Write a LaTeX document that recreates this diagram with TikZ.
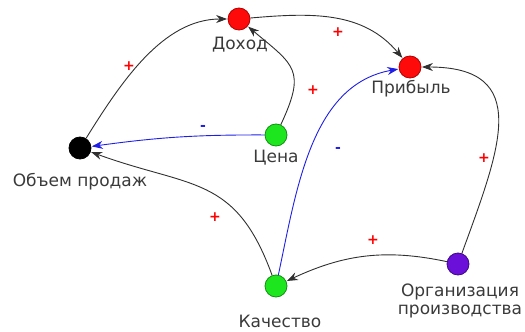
\documentclass[tikz,border=0pt]{standalone}
\usepackage{fontspec}
\setmainfont{DejaVu Sans}
\usetikzlibrary{arrows.meta}
\definecolor{txt}{HTML}{3A3A3A}
\definecolor{edge}{HTML}{303030}
\definecolor{neg}{HTML}{1E1EE6}
\definecolor{redfill}{HTML}{FF0A0A}
\definecolor{redline}{HTML}{B00000}
\definecolor{greenfill}{HTML}{1EE61E}
\definecolor{greenline}{HTML}{109010}
\definecolor{purplefill}{HTML}{6A10D8}
\definecolor{purpleline}{HTML}{40088A}
\tikzset{
  vert/.style={circle, minimum size=22pt, inner sep=0pt, line width=0.8pt},
  lbl/.style={text=txt, font=\fontsize{17}{19}\selectfont, inner sep=0pt, align=center},
  link/.style={draw=edge, line width=0.9pt, -{Stealth[length=11pt,width=8pt]}, shorten >=0.5pt},
  neglink/.style={link, draw=neg},
  plus/.style={text=red, font=\bfseries\fontsize{14}{16}\selectfont, inner sep=0pt},
  minus/.style={text=neg, font=\bfseries\fontsize{14}{16}\selectfont, inner sep=0pt}
}
\begin{document}
\begin{tikzpicture}[x=1pt, y=-1pt]
  \useasboundingbox (0,0) rectangle (525,332);

  % variables of the model
  \node[vert, fill=redfill, draw=redline] (doh) at (239,19) {};
  \node[vert, fill=redfill, draw=redline] (prib) at (410,67) {};
  \node[vert, fill=black, draw=black] (ob) at (80,148) {};
  \node[vert, fill=greenfill, draw=greenline] (cena) at (276,135) {};
  \node[vert, fill=greenfill, draw=greenline] (kach) at (276,286) {};
  \node[vert, fill=purplefill, draw=purpleline] (org) at (458,264) {};

  % captions
  \node[lbl] (doh-t) at (240,45) {Доход};
  \node[lbl] (prib-t) at (411,89) {Прибыль};
  \node[lbl] (ob-t) at (80,182) {Объем продаж};
  \node[lbl] (cena-t) at (276,158) {Цена};
  \node[lbl] (kach-t) at (280,321) {Качество};
  \node[lbl] (org-t) at (460,301) {Организация\\[-1pt]производства};

  % causal links
  \draw[link] (ob) to[out=58, in=180, looseness=0.9] (doh);
  \draw[link] (cena) to[out=65, in=-40, looseness=1.5] (doh);
  \draw[link] (doh) to[out=5, in=130, looseness=1.0] (prib);
  \draw[neglink] (cena) to[bend right=4] (ob);
  \draw[neglink] (kach) to[out=78, in=190, looseness=0.95] (prib);
  \draw[link] (org) to[out=70, in=0, looseness=1.5] (prib);
  \draw[link] (org) to[out=168, in=25, looseness=1.0] (kach);
  \draw[link] (kach) to[out=110, in=-20, looseness=1.25] (ob);

  % polarity marks
  \node[plus] (p1) at (129,66) {+};
  \node[plus] (p2) at (338,32) {+};
  \node[plus] (p3) at (313,90) {+};
  \node[minus] (m1) at (203,128) {-};
  \node[minus] (m2) at (338,150) {-};
  \node[plus] (p4) at (484,158) {+};
  \node[plus] (p5) at (373,240) {+};
  \node[plus] (p6) at (215,217) {+};
\end{tikzpicture}
\end{document}
